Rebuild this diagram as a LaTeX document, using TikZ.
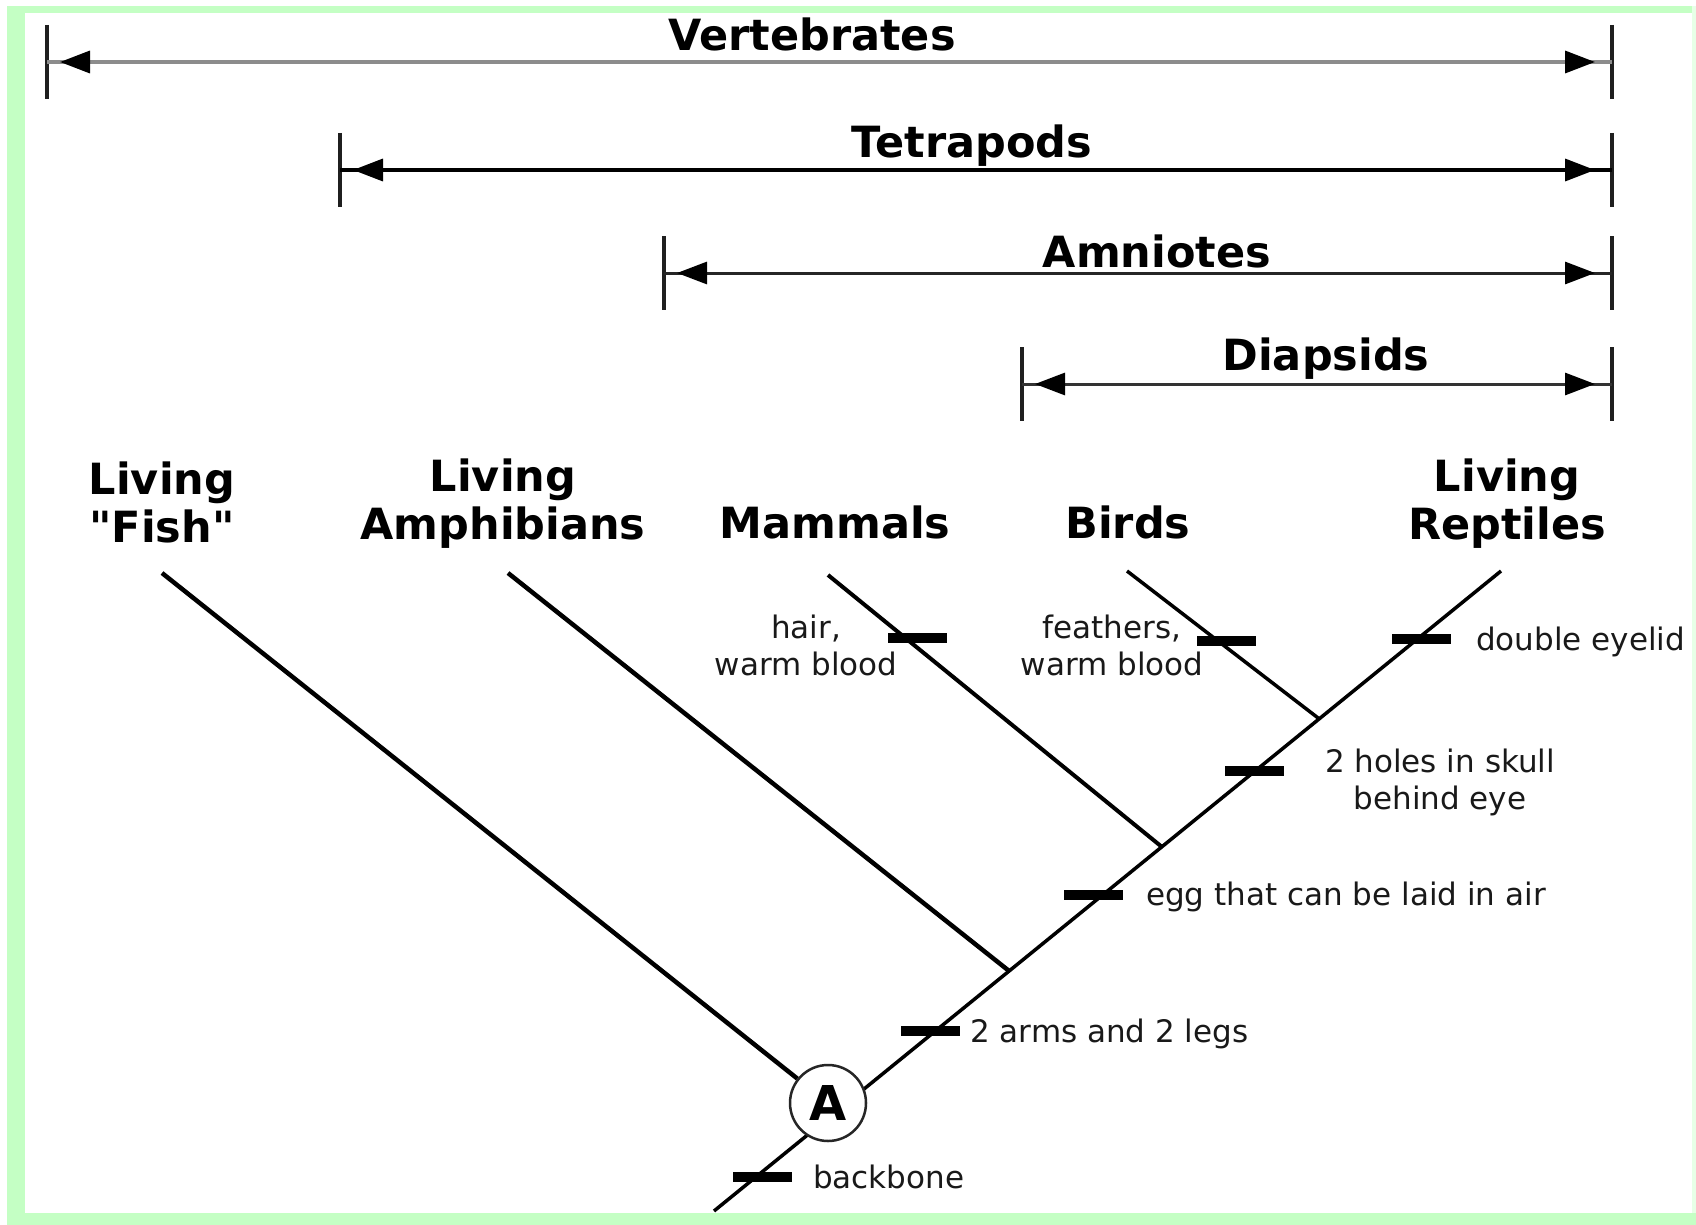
\documentclass[tikz,border=0pt]{standalone}
\usepackage{fontspec}
\setmainfont{DejaVu Sans}[Ligatures=TeXOff]
\usetikzlibrary{arrows.meta,calc}
\definecolor{framegreen}{HTML}{C4FFC4}
\definecolor{rulegrey}{HTML}{8C8C8C}

\begin{document}
\begin{tikzpicture}[x=1pt,y=-1pt,
  cladename/.style={font=\fontsize{43}{48}\selectfont\bfseries, inner sep=0pt, anchor=base},
  taxon/.style={font=\fontsize{43}{48}\selectfont\bfseries, align=center, inner sep=0pt, anchor=base},
  trait/.style={font=\fontsize{31}{37}\selectfont, inner sep=0pt, text=black!90},
  traitbar/.style={fill=black, minimum width=59pt, minimum height=10pt, inner sep=0pt},
  spanline/.style={line width=3.5pt},
  spantips/.style={spanline,
    {Triangle[length=30pt,width=22pt,color=black]}-{Triangle[length=30pt,width=22pt,color=black]},
    shorten <=13pt, shorten >=17pt},
  endtick/.style={line width=4pt, draw=black!88},
  branch/.style={line width=3.5pt},
  thickbranch/.style={line width=4.5pt},
]
\useasboundingbox (0,0) rectangle (1696,1225);

% page and green frame
\fill[white] (0,0) rectangle (1696,1225);
\fill[framegreen] (7,6) rectangle (1696,13);
\fill[framegreen] (7,6) rectangle (25,1225);
\fill[framegreen] (7,1213) rectangle (1696,1225);
\fill[framegreen!40] (1692,6) rectangle (1696,1213);

% clade ranges
\coordinate (vertL) at (47,62);   \coordinate (vertR) at (1612,62);
\coordinate (tetraL) at (340,170); \coordinate (tetraR) at (1612,170);
\coordinate (amnioL) at (664,273); \coordinate (amnioR) at (1612,273);
\coordinate (diapL) at (1022,384); \coordinate (diapR) at (1612,384);

\foreach \c in {vertL,vertR,tetraL,tetraR,amnioL,amnioR,diapL,diapR}
  \draw[endtick] (\c) ++(0,-37) -- ++(0,74);

\draw[spanline, rulegrey] (vertL) -- (vertR);
\draw[spantips, rulegrey] (vertL) -- (vertR);
\draw[spanline, black] (tetraL) -- (tetraR);
\draw[spantips, black] (tetraL) -- (tetraR);
\draw[spanline, black!85, line width=3pt] (amnioL) -- (amnioR);
\draw[spantips, black!85, line width=3pt] (amnioL) -- (amnioR);
\draw[spanline, black!80, line width=3pt] (diapL) -- (diapR);
\draw[spantips, black!80, line width=3pt] (diapL) -- (diapR);

\node[cladename] (vertName) at (812,51) {Vertebrates};
\node[cladename] (tetraName) at (972,158) {Tetrapods};
\node[cladename] (amnioName) at (1157,267) {Amniotes};
\node[cladename] (diapName) at (1326,370) {Diapsids};

% taxon names (base = baseline of the last line)
\node[taxon] (fishName) at (162,542) {Living\\"Fish"};
\node[taxon] (amphName) at (503,539) {Living\\Amphibians};
\node[taxon] (mammName) at (835,538) {Mammals};
\node[taxon] (birdName) at (1128,538) {Birds};
\node[taxon] (reptName) at (1507,539) {Living\\Reptiles};

% tree
\coordinate (root) at (714,1211);
\coordinate (reptTip) at (1501,571);
\coordinate (fishTip) at (162,573);
\coordinate (amphTip) at (508,573);
\coordinate (mammTip) at (828,575);
\coordinate (birdTip) at (1127,571);
\coordinate (amphJoin) at ($(root)!0.375!(reptTip)$);
\coordinate (mammJoin) at ($(root)!0.569!(reptTip)$);
\coordinate (birdJoin) at ($(root)!0.769!(reptTip)$);

\draw[branch] (root) -- (reptTip);
\draw[thickbranch] (amphTip) -- (amphJoin);
\draw[branch, line width=4pt] (mammTip) -- (mammJoin);
\draw[branch] (birdTip) -- (birdJoin);

\node[circle, draw=black!85, fill=white, line width=2.5pt, minimum size=76pt,
      inner sep=0pt, font=\fontsize{48}{48}\selectfont\bfseries] (A) at (828,1103) {A};
\draw[thickbranch] (fishTip) -- (A);

% character bars
\node[traitbar] (barBackbone) at (762,1177) {};
\node[traitbar] (barLimbs) at (930,1031) {};
\node[traitbar] (barEgg) at (1093,895) {};
\node[traitbar] (barSkull) at (1254,771) {};
\node[traitbar] (barEyelid) at (1421,639) {};
\node[traitbar] (barHair) at (917,638) {};
\node[traitbar] (barFeathers) at (1226,641) {};

% character labels
\node[trait, anchor=base west] (txtBackbone) at (813,1188) {backbone};
\node[trait, anchor=base west] (txtLimbs) at (970,1042) {2 arms and 2 legs};
\node[trait, anchor=base west] (txtEgg) at (1146,905) {egg that can be laid in air};
\node[trait, anchor=base, align=center] (txtSkull) at (1440,809) {2 holes in skull\\behind eye};
\node[trait, anchor=base west] (txtEyelid) at (1476,650) {double eyelid};
\node[trait, anchor=base, align=center] (txtHair) at (806,675) {hair,\\warm blood};
\node[trait, anchor=base, align=center] (txtFeathers) at (1112,675) {feathers,\\warm blood};
\end{tikzpicture}
\end{document}
